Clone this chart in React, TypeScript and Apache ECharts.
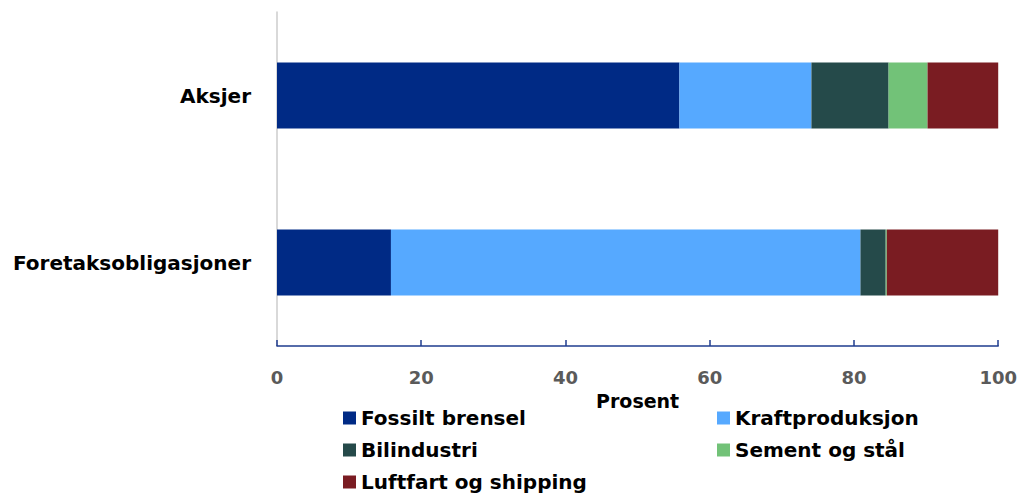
import React, { useEffect, useRef } from "react";
import * as echarts from "echarts";

const categories = ["Foretaksobligasjoner", "Aksjer"];
const seriesNames = ["Fossilt brensel", "Kraftproduksjon", "Bilindustri", "Sement og stål", "Luftfart og shipping"];
const fossilt = [15.8, 55.8];
const kraft = [65.1, 18.3];
const bil = [3.5, 10.7];
const sement = [0.15, 5.4];
const luftfart = [15.45, 9.8];
const xTicks = [0, 20, 40, 60, 80, 100];
const colors = ["#002a85", "#56a9ff", "#254a4a", "#72c278", "#7a1c22"];

const FONT = "'DejaVu Sans', sans-serif";

export default function App() {
  const ref = useRef<HTMLDivElement>(null);
  useEffect(() => {
    if (!ref.current) return;
    const chart = echarts.init(ref.current, undefined, { renderer: "svg" });
    const values = [fossilt, kraft, bil, sement, luftfart];
    const legendText = { fontFamily: FONT, fontSize: 20, fontWeight: "bold", color: "#000", lineHeight: 22 };
    chart.setOption({
      animation: false,
      textStyle: { fontFamily: FONT },
      grid: { left: 277, right: 21, top: 12, bottom: 148, containLabel: false },
      xAxis: {
        type: "value",
        min: xTicks[0],
        max: xTicks[xTicks.length - 1],
        interval: 20,
        name: "Prosent",
        nameLocation: "middle",
        nameGap: 45,
        nameTextStyle: { fontFamily: FONT, fontSize: 19, fontWeight: "bold", color: "#000" },
        axisLine: { show: true, lineStyle: { color: "#1f3c8f", width: 1.5 } },
        axisTick: { show: true, inside: true, length: 6, lineStyle: { color: "#1f3c8f", width: 1.5 } },
        axisLabel: { fontFamily: FONT, fontSize: 18, fontWeight: "bold", color: "#5a5a5a", margin: 22 },
        splitLine: { show: false },
      },
      yAxis: {
        type: "category",
        data: categories,
        axisLine: { show: true, lineStyle: { color: "#cccccc", width: 1.5 } },
        axisTick: { show: false },
        axisLabel: { fontFamily: FONT, fontSize: 20, fontWeight: "bold", color: "#000", margin: 26 },
      },
      legend: [
        {
          left: 338,
          top: 402,
          height: 110,
          orient: "vertical",
          itemWidth: 13,
          itemHeight: 13,
          itemGap: 10,
          icon: "rect",
          data: [seriesNames[0], seriesNames[2], seriesNames[4]],
          textStyle: legendText,
        },
        {
          left: 712,
          top: 402,
          height: 110,
          orient: "vertical",
          itemWidth: 13,
          itemHeight: 13,
          itemGap: 10,
          icon: "rect",
          data: [seriesNames[1], seriesNames[3]],
          textStyle: legendText,
        },
      ],
      series: seriesNames.map((name, i) => ({
        name,
        type: "bar",
        stack: "total",
        barWidth: 66,
        data: values[i],
        itemStyle: { color: colors[i] },
        emphasis: { disabled: true },
      })),
    });
    return () => chart.dispose();
  }, []);
  return <div ref={ref} style={{ width: 1020, height: 494, position: "absolute", left: 0, top: 0 }} />;
}
